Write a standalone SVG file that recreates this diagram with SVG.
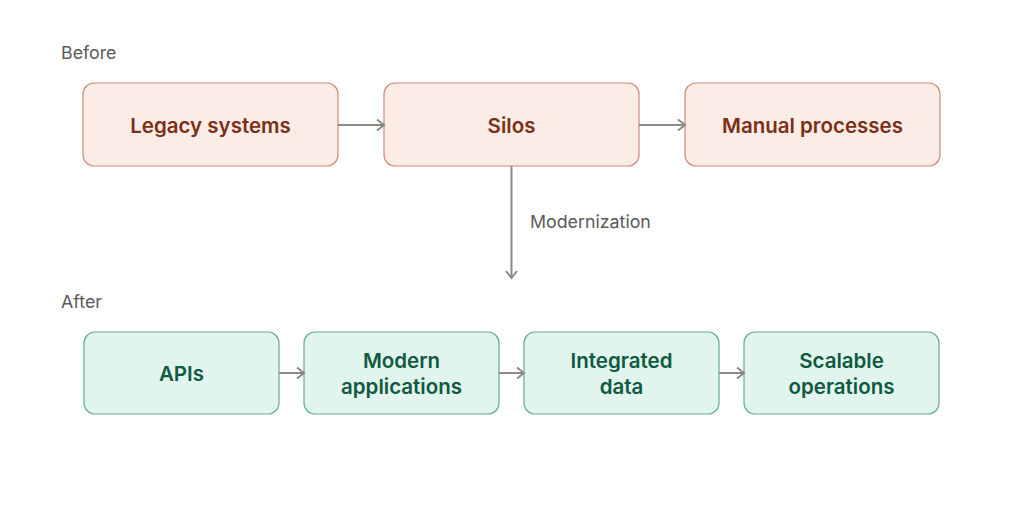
<svg xmlns="http://www.w3.org/2000/svg" width="1024" height="512" viewBox="0 0 1024 512">
<style>
.sec{font-family:Inter,"Noto Sans",sans-serif;font-size:17.8px;fill:#5a5a5a}
.before rect{fill:#fbece6;stroke:#cf8b78;stroke-width:1.2}
.before text{fill:#7b2f16}
.after rect{fill:#e1f4ed;stroke:#67ad90;stroke-width:1.2}
.after text{fill:#0f5a40}
.lbl{font-family:Inter,"Noto Sans",sans-serif;font-size:20.5px;font-weight:600;text-anchor:middle}
.conn path{fill:none;stroke:#8a8a86;stroke-width:2}
.ah{fill:none;stroke:#8a8a86;stroke-width:2}
</style>
<defs>
<marker id="arr" markerWidth="14" markerHeight="14" refX="11" refY="7" orient="auto" markerUnits="userSpaceOnUse">
<path class="ah" d="M4,1.5 L11,7 L4,12.5"/>
</marker>
</defs>
<rect width="1024" height="512" fill="#ffffff"/>
<text class="sec" x="61" y="59">Before</text>
<text class="sec" x="61" y="308">After</text>
<g class="before">
<g id="legacy"><rect x="83" y="83" width="255" height="83" rx="11"/><text class="lbl" x="210.5" y="133">Legacy systems</text></g>
<g id="silos"><rect x="384" y="83" width="255" height="83" rx="11"/><text class="lbl" x="511.5" y="133">Silos</text></g>
<g id="manual"><rect x="685" y="83" width="255" height="83" rx="11"/><text class="lbl" x="812.5" y="133">Manual processes</text></g>
</g>
<g class="after">
<g id="apis"><rect x="84" y="332" width="195" height="82" rx="11"/><text class="lbl" x="181.5" y="381">APIs</text></g>
<g id="modern"><rect x="304" y="332" width="195" height="82" rx="11"/><text class="lbl" x="401.5" y="368">Modern</text><text class="lbl" x="401.5" y="394">applications</text></g>
<g id="integrated"><rect x="524" y="332" width="195" height="82" rx="11"/><text class="lbl" x="621.5" y="368">Integrated</text><text class="lbl" x="621.5" y="394">data</text></g>
<g id="scalable"><rect x="744" y="332" width="195" height="82" rx="11"/><text class="lbl" x="841.5" y="368">Scalable</text><text class="lbl" x="841.5" y="394">operations</text></g>
</g>
<g class="conn">
<path d="M338,125 H384" marker-end="url(#arr)"/>
<path d="M639,125 H685" marker-end="url(#arr)"/>
<path d="M511.5,166 V278" marker-end="url(#arr)"/>
<path d="M279,373 H304" marker-end="url(#arr)"/>
<path d="M499,373 H524" marker-end="url(#arr)"/>
<path d="M719,373 H744" marker-end="url(#arr)"/>
</g>
<text class="sec" x="530" y="228">Modernization</text>
</svg>
